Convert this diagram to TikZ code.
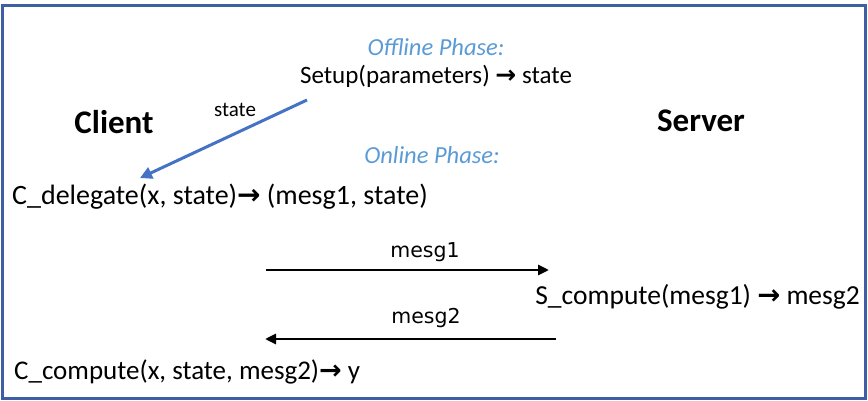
\documentclass[tikz,border=0pt]{standalone}
\usepackage{fontspec}
\setmainfont{Carlito}
\newfontfamily\dv{DejaVu Sans}
\usetikzlibrary{arrows.meta}
\definecolor{frameblue}{HTML}{3F5FA5}
\definecolor{phaseblue}{HTML}{5B9BD5}
\definecolor{arrowblue}{HTML}{4472C4}
\newcommand{\rarr}{{\dv\bfseries\char"2192}}
\tikzset{
  txt/.style={inner sep=0pt, font=\fontsize{27.5}{32}\selectfont},
  phase/.style={inner sep=0pt, text=phaseblue, font=\fontsize{24.5}{29}\selectfont\itshape},
  role/.style={inner sep=0pt, font=\fontsize{33}{38}\selectfont\bfseries},
  msglbl/.style={inner sep=0pt, font=\dv\fontsize{20.5}{24}\selectfont},
  msgarrow/.style={line width=2.7pt, -{Triangle[length=11pt,width=10pt]}},
}
\begin{document}
\begin{tikzpicture}[x=1pt,y=-1pt]
\useasboundingbox (0,0) rectangle (868,401);
\draw[frameblue, line width=3pt] (2.5,5.5) rectangle (865.5,398.5);

\node[phase] (off) at (436,47) {Offline Phase:};
\node[txt, font=\fontsize{25}{30}\selectfont] (setup) at (436,76) {Setup(parameters) \rarr\ state};
\node[role] (client) at (114,122) {Client};
\node[role] (server) at (701,121) {Server};
\node[inner sep=0pt, font=\fontsize{21}{25}\selectfont] (st) at (235,110) {state};
\node[phase] (on) at (432,155) {Online Phase:};
\node[txt, anchor=west, font=\fontsize{28}{33}\selectfont] (deleg) at (12,197) {C\_delegate(x, state)\rarr\ (mesg1, state)};
\node[msglbl] (m1) at (425,252) {mesg1};
\node[txt, anchor=east] (scomp) at (860,297) {S\_compute(mesg1) \rarr\ mesg2};
\node[msglbl] (m2) at (426,318) {mesg2};
\node[txt, anchor=west, font=\fontsize{27}{32}\selectfont] (ccomp) at (14,372) {C\_compute(x, state, mesg2)\rarr\ y};

\coordinate (bs) at (307,100);
\coordinate (be) at (140,178);
\draw[arrowblue, line width=3pt, -{Triangle[length=12pt,width=12pt]}] (bs) -- (be);

\coordinate (a1s) at (266,270);
\coordinate (a1e) at (549,270);
\draw[msgarrow] (a1s) -- (a1e);
\coordinate (a2s) at (556,339);
\coordinate (a2e) at (265,339);
\draw[msgarrow] (a2s) -- (a2e);
\end{tikzpicture}
\end{document}
